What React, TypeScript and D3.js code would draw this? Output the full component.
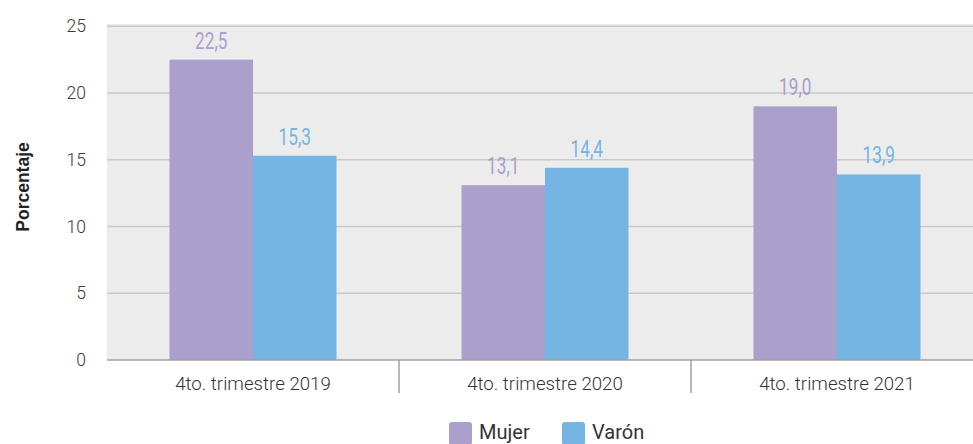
import React from "react";
import * as d3 from "d3";

const categories = ["4to. trimestre 2019", "4to. trimestre 2020", "4to. trimestre 2021"];
const seriesNames = ["Mujer", "Varón"];
const mujer = [22.5, 13.1, 19.0];
const varon = [15.3, 14.4, 13.9];
const yTicks = [0, 5, 10, 15, 20, 25];
const colors = ["#ab9fcc", "#75b5e3"];

const W = 973;
const H = 444;
const left = 107;
const right = 983;
const top = 24;
const bottom = 360;

export default function App() {
  const x = d3.scaleBand<string>().domain(categories).range([left, right]).paddingInner(0).paddingOuter(0);
  const y = d3.scaleLinear().domain([0, 25]).range([bottom, 26.3]);
  const groupW = 167;
  const sub = d3.scaleBand<string>().domain(seriesNames).range([0, groupW]).padding(0);
  const series = [mujer, varon];
  const fmt = (v: number) => v.toFixed(1).replace(".", ",");
  const base = "Roboto, 'Liberation Sans', sans-serif";

  return (
    <svg width={W} height={H} style={{ position: "absolute", left: 0, top: 0 }}>
      <rect x={left} y={top} width={W - left} height={bottom - top} fill="#ececec" />
      {yTicks.filter((t) => t > 0).map((t) => (
        <line key={t} x1={left} x2={W} y1={y(t)} y2={y(t)} stroke="#c9c9c9" strokeWidth={1.5} />
      ))}
      {yTicks.map((t) => (
        <text key={t} x={86} y={y(t)} dy="0.35em" textAnchor="end" fontFamily={base} fontWeight={300} fontSize={17.5} fill="#3a3a3a">
          {t}
        </text>
      ))}
      <text
        transform={`translate(29,187) rotate(-90)`}
        textAnchor="middle"
        fontFamily="'Liberation Sans', Arial, sans-serif"
        fontWeight="bold"
        fontSize={17.5}
        fill="#222"
      >
        Porcentaje
      </text>
      {categories.map((c, i) => {
        const cx = (x(c) as number) + x.bandwidth() / 2;
        const g0 = cx - groupW / 2;
        return (
          <g key={c}>
            {series.map((s, j) => {
              const bx = g0 + (sub(seriesNames[j]) as number);
              const bw = sub.bandwidth();
              return (
                <g key={j}>
                  <rect x={bx} y={y(s[i])} width={bw} height={bottom - y(s[i])} fill={colors[j]} />
                  <text
                    transform={`translate(${bx + bw / 2},${y(s[i]) - 11}) scale(0.7,1)`}
                    textAnchor="middle"
                    fontFamily={base}
                    fontSize={24.5}
                    fill={colors[j]}
                  >
                    {fmt(s[i])}
                  </text>
                </g>
              );
            })}
            <text x={cx} y={390} textAnchor="middle" fontFamily={base} fontWeight={300} fontSize={18.7} fill="#333">
              {c}
            </text>
          </g>
        );
      })}
      <line x1={left} x2={W} y1={bottom} y2={bottom} stroke="#a0a0a0" strokeWidth={1.5} />
      {categories.slice(1).map((c) => (
        <line key={c} x1={x(c) as number} x2={x(c) as number} y1={bottom} y2={393} stroke="#a0a0a0" strokeWidth={1.5} />
      ))}
      {seriesNames.map((n, j) => {
        const lx = [449, 562][j];
        return (
          <g key={n}>
            <rect x={lx} y={422} width={23} height={23} rx={3} fill={colors[j]} />
            <text x={lx + 30} y={439} fontFamily={base} fontSize={20} fill="#333">
              {n}
            </text>
          </g>
        );
      })}
    </svg>
  );
}
